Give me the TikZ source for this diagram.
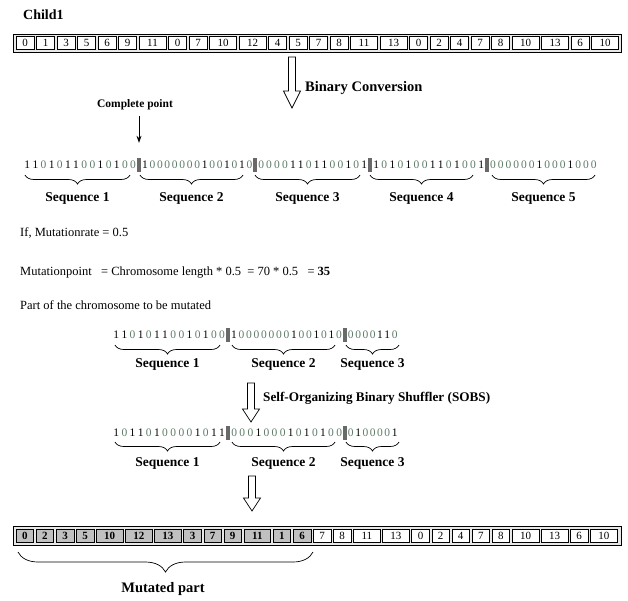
\documentclass[tikz,border=0pt]{standalone}
\usepackage{fontspec}
\setmainfont{Liberation Serif}
\usetikzlibrary{decorations.pathreplacing,arrows.meta}
\definecolor{bitzero}{RGB}{95,125,105}
\definecolor{barc}{RGB}{105,105,105}
\definecolor{mutfill}{RGB}{192,192,192}
\definecolor{framefill}{RGB}{232,232,232}
\makeatletter
\def\bitstr#1#2{\def\bit@w{#1}\bit@loop#2\relax}
\def\bit@loop#1{\ifx\relax#1\else\bit@one{#1}\expandafter\bit@loop\fi}
\def\bit@one#1{\makebox[\bit@w pt]{\if1#1\color{black}\else\color{bitzero}\fi#1}}
\makeatother
\newcommand\hollowarrow[4]{% x, y start, y head, y tip
  \draw[harrow] ({#1-3.5},#2) -- ({#1+3.5},#2) -- ({#1+3.5},#3) -- ({#1+8.5},#3) -- (#1,#4) -- ({#1-8.5},#3) -- ({#1-3.5},#3) -- cycle;}
\newcommand\seqbrace[6]{% x1, x2, y, label y, text, name
  \coordinate (#6a) at (#1,#3); \coordinate (#6b) at (#2,#3);
  \draw[brc] (#6a) -- (#6b);
  \node[seqlbl] (#6) at ({(#1+#2)/2},#4) {#5};}
\begin{document}
\begin{tikzpicture}[x=1pt,y=-1pt,
  title/.style={font=\fontsize{14}{16}\selectfont\bfseries, inner sep=0},
  seqlbl/.style={font=\fontsize{13.5}{15}\selectfont\bfseries, inner sep=0},
  txt/.style={font=\fontsize{12.5}{15}\selectfont, anchor=west, inner sep=0},
  bits/.style={font=\fontsize{11.5}{13}\selectfont, anchor=west, inner sep=0},
  barbox/.style={fill=barc, minimum width=4, minimum height=14, inner sep=0},
  cellbox/.style={draw, line width=0.6, minimum height=13, inner sep=0, fill=white, font=\fontsize{11}{13}\selectfont},
  mutcell/.style={cellbox, fill=mutfill, font=\fontsize{11}{13}\selectfont\bfseries},
  framebox/.style={draw, line width=0.9, fill=framefill},
  brc/.style={decorate, decoration={brace, mirror, amplitude=9pt}, line width=0.7},
  harrow/.style={draw, fill=white, line width=0.7}]
\useasboundingbox[fill=white] (0,0) rectangle (628,600);

\node[title, anchor=west] (child) at (23,15) {Child1};

% top chromosome
\draw[framebox] (13,34) rectangle (621.5,52);
\gdef\xpos{16}
\foreach \v [count=\i] in {0,1,3,5,6,9,11,0,7,10,12,4,5,7,8,11,13,0,2,4,7,8,10,13,6,10}{
  \pgfmathsetmacro\w{\v>9 ? 27 : 18}
  \node[cellbox, minimum width=\w] (top\i) at (\xpos+\w/2,43) {\v};
  \pgfmathsetmacro\nx{\xpos+\w+2.5}
  \xdef\xpos{\nx}
}

\hollowarrow{292}{57}{91}{108}
\node[title, anchor=west, font=\fontsize{14.5}{16}\selectfont\bfseries] (conv) at (305,88) {Binary Conversion};

\node[title, font=\fontsize{11.5}{13}\selectfont\bfseries] (cp) at (135,105) {Complete point};

% binary row 1
\node[bits] (r1s1) at (23,165) {\bitstr{8.14}{11010110010100}};
\node[barbox] (r1b1) at (139,165) {};
\node[bits] (r1s2) at (141,165) {\bitstr{7.47}{100000001001010}};
\node[barbox] (r1b2) at (255,165) {};
\node[bits] (r1s3) at (257,165) {\bitstr{7.93}{00001101100101}};
\node[barbox] (r1b3) at (370,165) {};
\node[bits] (r1s4) at (372,165) {\bitstr{8.07}{10101001101001}};
\node[barbox] (r1b4) at (487,165) {};
\node[bits] (r1s5) at (489,165) {\bitstr{7.75}{00000010001000}};
\draw[-{Stealth[length=7pt,width=5pt]}, line width=0.8] (cp.south) ++(4,6) coordinate (cpa) -- ([yshift=15pt]r1b1.north);

\seqbrace{25}{130}{175}{198}{Sequence 1}{q1}
\seqbrace{140}{243}{175}{198}{Sequence 2}{q2}
\seqbrace{255}{360}{175}{198}{Sequence 3}{q3}
\seqbrace{370}{473}{175}{198}{Sequence 4}{q4}
\seqbrace{492}{595}{175}{198}{Sequence 5}{q5}

\node[txt] (rate) at (20,233) {If, Mutationrate = 0.5};
\node[txt] (mpoint) at (20,273) {Mutationpoint\ \ \ = Chromosome length * 0.5\ \ = 70 * 0.5\ \ \ = \textbf{35}};
\node[txt] (part) at (20,305) {Part of the chromosome to be mutated};

% part to mutate
\node[bits] (r2s1) at (112,335) {\bitstr{8.14}{11010110010100}};
\node[barbox] (r2b1) at (228,335) {};
\node[bits] (r2s2) at (230,335) {\bitstr{7.5}{100000001001010}};
\node[barbox] (r2b2) at (345,335) {};
\node[bits] (r2s3) at (347,335) {\bitstr{7.3}{0000110}};
\seqbrace{115}{220}{345}{364}{Sequence 1}{m1}
\seqbrace{232}{335}{345}{364}{Sequence 2}{m2}
\seqbrace{346}{399}{345}{364}{Sequence 3}{m3}

\hollowarrow{251}{383}{409}{422}
\node[title, anchor=west, font=\fontsize{13.2}{15}\selectfont\bfseries] (sobs) at (263,398) {Self-Organizing Binary Shuffler (SOBS)};

% shuffled
\node[bits] (r3s1) at (112,433) {\bitstr{8.14}{10110100001011}};
\node[barbox] (r3b1) at (228,433) {};
\node[bits] (r3s2) at (230,433) {\bitstr{8.07}{00010001010100}};
\node[barbox] (r3b2) at (345,433) {};
\node[bits] (r3s3) at (347,433) {\bitstr{7.3}{0100001}};
\seqbrace{115}{220}{442}{463}{Sequence 1}{s1}
\seqbrace{232}{335}{442}{463}{Sequence 2}{s2}
\seqbrace{346}{399}{442}{463}{Sequence 3}{s3}

\hollowarrow{252}{476}{498}{511}

% bottom chromosome
\draw[framebox] (13,526) rectangle (621.5,545);
\gdef\xpos{16}
\foreach \v [count=\i] in {0,2,3,5,10,12,13,3,7,9,11,1,6,7,8,11,13,0,2,4,7,8,10,13,6,10}{
  \pgfmathsetmacro\w{\v>9 ? 26.6 : 17.6}
  \ifnum\i<14
    \node[mutcell, minimum width=\w] (bot\i) at (\xpos+\w/2,535.5) {\v};
  \else
    \node[cellbox, minimum width=\w] (bot\i) at (\xpos+\w/2,535.5) {\v};
  \fi
  \pgfmathsetmacro\nx{\xpos+\w+2.5}
  \xdef\xpos{\nx}
}
\draw[decorate, decoration={brace, mirror, amplitude=20pt}, line width=0.7] (18,552) coordinate (mpa) -- (313,552) coordinate (mpb);
\node[seqlbl, font=\fontsize{14.5}{16}\selectfont\bfseries] (mut) at (163,589) {Mutated part};
\end{tikzpicture}
\end{document}
